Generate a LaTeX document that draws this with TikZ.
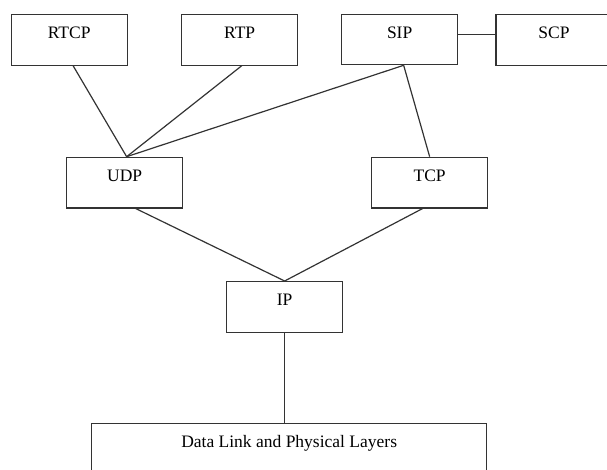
\documentclass[tikz,border=0pt]{standalone}
\usepackage{fontspec}
\setmainfont{Liberation Serif}
\begin{document}
\begin{tikzpicture}[x=1pt,y=-1pt,
  layer/.style={draw=black!80, line width=1.3pt, rectangle, anchor=north west,
    minimum width=#1, minimum height=50.5pt, inner xsep=0pt, inner ysep=0pt,
    text height=24pt, text depth=26.5pt, font=\fontsize{17.5}{20}\selectfont},
  layer/.default=116pt,
  link/.style={draw=black!80, line width=1.2pt}]
\useasboundingbox (0,0) rectangle (607,469);
\clip (0,0) rectangle (607,469);
\node[layer] (rtcp) at (10.5,14) {RTCP};
\node[layer] (rtp)  at (181,14) {RTP};
\node[layer] (sip)  at (341,13.5) {SIP};
\node[layer] (scp)  at (495.3,14) {SCP};
\node[layer] (udp)  at (66,156.7) {UDP};
\node[layer] (tcp)  at (371,156.7) {TCP};
\node[layer] (ip)   at (226,281) {IP};
\node[layer=395pt, minimum height=60pt, text depth=36pt] (dl) at (91,422.7) {Data Link and Physical Layers};
\coordinate (udptop) at ([xshift=2pt]udp.north);
\coordinate (siptail) at ([xshift=4pt]sip.south);
\draw[link] ([xshift=4pt]rtcp.south) -- (udptop);
\draw[link] ([xshift=2pt]rtp.south) -- (udptop);
\draw[link] (siptail) -- (udptop);
\draw[link] (siptail) -- (tcp.north);
\draw[link] ([yshift=4.7pt]sip.east) -- ([yshift=4.7pt]sip.east -| scp.west);
\draw[link] ([xshift=11pt]udp.south) -- (ip.north);
\draw[link] ([xshift=-7pt]tcp.south) -- (ip.north);
\draw[link] (ip.south) -- (ip.south |- dl.north);
\end{tikzpicture}
\end{document}
